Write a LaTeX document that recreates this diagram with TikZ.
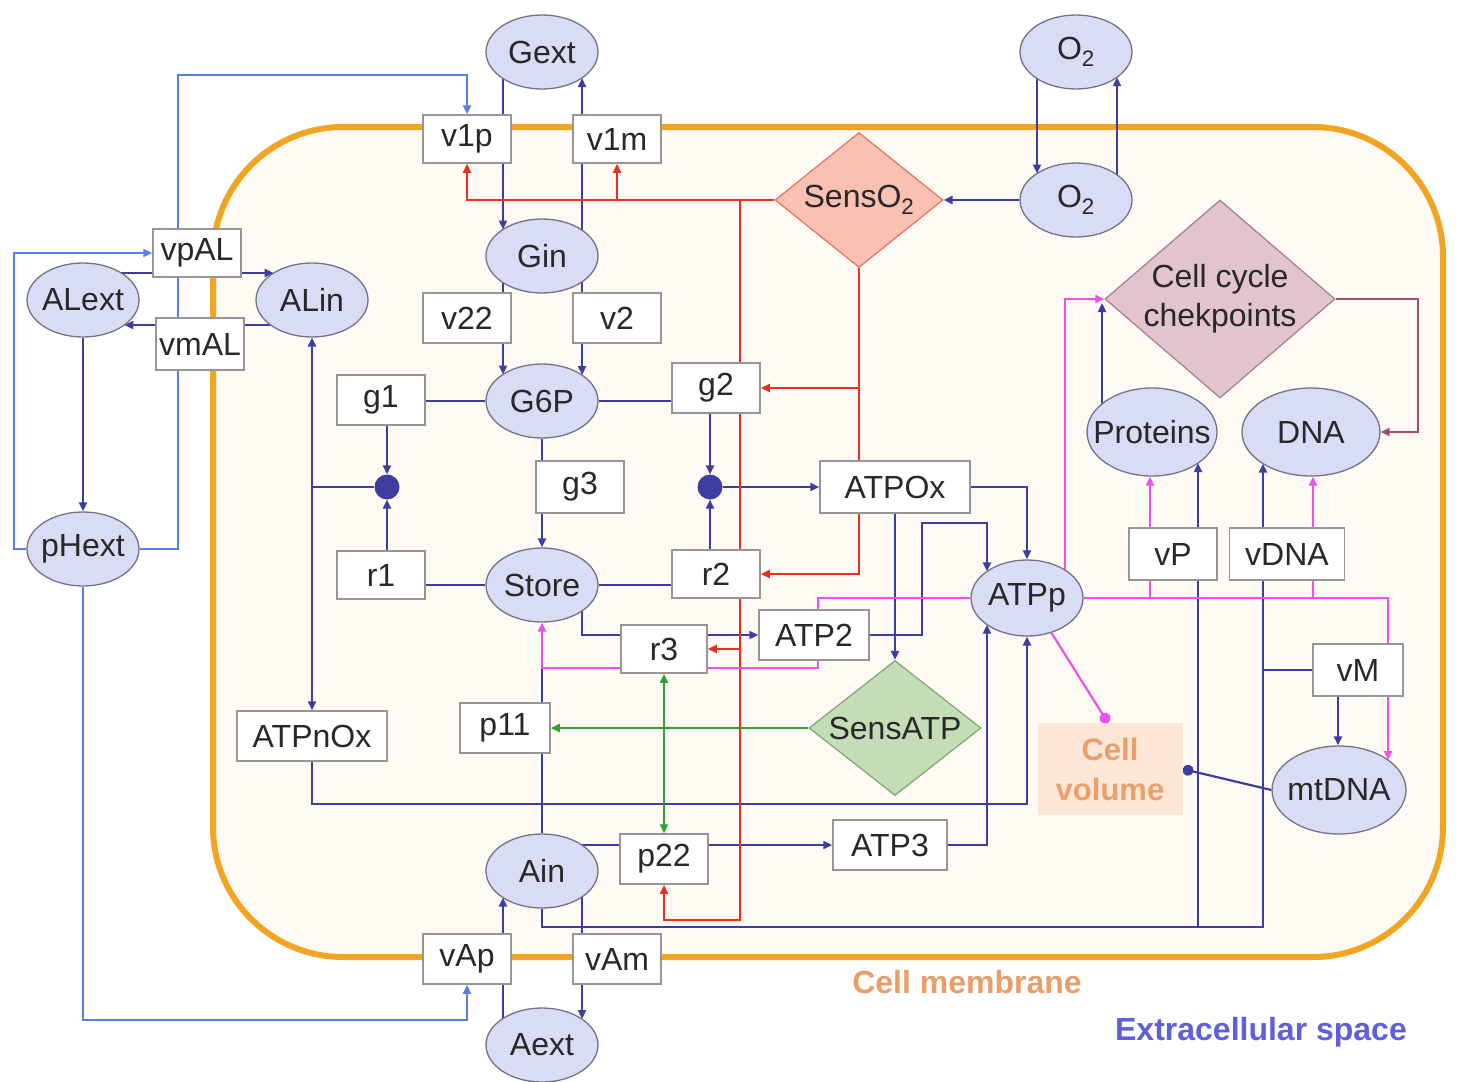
\documentclass[tikz,border=0pt]{standalone}
\usepackage{fontspec}
\setmainfont{Liberation Sans}
\usetikzlibrary{shapes.geometric,arrows.meta,calc}
\definecolor{navy}{RGB}{62,62,160}
\definecolor{lblue}{RGB}{90,128,232}
\definecolor{rdc}{RGB}{232,48,32}
\definecolor{mgc}{RGB}{238,80,238}
\definecolor{grc}{RGB}{50,160,50}
\definecolor{mvc}{RGB}{160,80,110}
\definecolor{ellfill}{RGB}{216,220,245}
\definecolor{ellline}{RGB}{115,115,135}
\definecolor{boxline}{RGB}{150,150,150}
\definecolor{txt}{RGB}{40,40,40}
\definecolor{membc}{RGB}{242,165,35}
\definecolor{cellfill}{RGB}{255,250,244}
\definecolor{so2fill}{RGB}{250,192,178}
\definecolor{so2line}{RGB}{228,120,100}
\definecolor{satpfill}{RGB}{196,221,182}
\definecolor{satpline}{RGB}{130,170,120}
\definecolor{ccfill}{RGB}{226,196,206}
\definecolor{ccline}{RGB}{170,130,145}
\definecolor{cvfill}{RGB}{252,230,214}
\definecolor{cvtext}{RGB}{232,160,112}
\definecolor{memtext}{RGB}{232,158,105}
\definecolor{exttext}{RGB}{95,95,220}
\newcommand\fsz{\fontsize{32}{38}\selectfont}
\newcommand\mkz[1]{\makebox[0pt]{#1}}
\pgfdeclarelayer{bg}
\pgfdeclarelayer{edges}
\pgfsetlayers{bg,edges,main}
\tikzset{
  elli/.style={ellipse, draw=ellline, fill=ellfill, line width=1.3pt, minimum width=112pt, minimum height=74pt, inner sep=0pt, font=\fsz, text=txt},
  rbox/.style={rectangle, draw=boxline, fill=white, line width=1.5pt, minimum width=88pt, minimum height=50pt, inner sep=0pt, font=\fsz, text=txt},
  dmd/.style={diamond, line width=1.3pt, inner sep=0pt, font=\fsz, text=txt},
  jdot/.style={circle, fill=navy, minimum size=25pt, inner sep=0pt},
  arr/.style={-{Triangle[length=9pt,width=8pt]}},
  arrb/.style={{Triangle[length=9pt,width=8pt]}-{Triangle[length=9pt,width=8pt]}},
  dotend/.style={-{Circle[length=11pt]}},
  nv/.style={draw=navy, line width=2.2pt},
  lb/.style={draw=lblue, line width=2.4pt},
  rd/.style={draw=rdc, line width=2.2pt},
  mg/.style={draw=mgc, line width=2.2pt},
  gr/.style={draw=grc, line width=2.2pt},
  mv/.style={draw=mvc, line width=2.2pt},
}
\begin{document}
\begin{tikzpicture}[x=1pt,y=-1pt]
\useasboundingbox (0,0) rectangle (1460,1082);
% ellipses
\node[elli] (Gext) at (542,52) {\mkz{Gext}};
\node[elli] (Gin) at (542,256) {\mkz{Gin}};
\node[elli] (G6P) at (542,401) {\mkz{G6P}};
\node[elli] (Store) at (542,585) {\mkz{Store}};
\node[elli] (Ain) at (542,871) {\mkz{Ain}};
\node[elli] (Aext) at (542,1045) {\mkz{Aext}};
\node[elli] (ALext) at (83,300) {\mkz{ALext}};
\node[elli] (ALin) at (312,300) {\mkz{ALin}};
\node[elli] (pHext) at (83,549) {\mkz{pHext}};
\node[elli] (O2t) at (1076,52) {\mkz{O\textsubscript{2}}};
\node[elli] (O2i) at (1076,200) {\mkz{O\textsubscript{2}}};
\node[elli, minimum height=76pt] (ATPp) at (1027,598) {\mkz{ATPp}};
\node[elli, minimum width=130pt, minimum height=88pt] (Prot) at (1152,432) {\mkz{Proteins}};
\node[elli, minimum width=138pt, minimum height=88pt] (DNA) at (1311,432) {\mkz{DNA}};
\node[elli, minimum width=134pt, minimum height=88pt] (mtDNA) at (1339,790) {\mkz{mtDNA}};
% boxes
\node[rbox, minimum height=48pt] (v1p) at (467,139) {v1p};
\node[rbox, minimum height=48pt] (v1m) at (617,139) {v1m};
\node[rbox] (v22) at (467,318) {v22};
\node[rbox] (v2) at (617,318) {v2};
\node[rbox, minimum height=48pt] (vpAL) at (197,253) {vpAL};
\node[rbox, minimum height=52pt] (vmAL) at (200,344) {vmAL};
\node[rbox] (g1) at (381,400) {g1};
\node[rbox, minimum height=48pt] (r1) at (381,575) {r1};
\node[rbox, minimum height=52pt] (g3) at (580,487) {g3};
\node[rbox] (g2) at (716,388) {g2};
\node[rbox, minimum height=48pt] (r2) at (716,574) {r2};
\node[rbox, minimum width=86pt, minimum height=48pt] (r3) at (664,649) {r3};
\node[rbox, minimum width=150pt, minimum height=52pt] (ATPOx) at (895,487) {ATPOx};
\node[rbox, minimum width=110pt] (ATP2) at (814,635) {ATP2};
\node[rbox, minimum width=150pt] (ATPnOx) at (312,736) {ATPnOx};
\node[rbox, minimum width=90pt] (p11) at (505,728) {p11};
\node[rbox] (p22) at (664,859) {p22};
\node[rbox, minimum width=114pt] (ATP3) at (890,845) {ATP3};
\node[rbox] (vAp) at (467,959) {vAp};
\node[rbox] (vAm) at (617,959) {vAm};
\node[rbox, minimum height=52pt] (vP) at (1173,554) {vP};
\node[rbox, minimum width=115pt, minimum height=52pt] (vDNA) at (1287,554) {vDNA};
\node[rbox, minimum width=90pt, minimum height=52pt] (vM) at (1358,670) {vM};
% diamonds
\node[dmd, draw=so2line, fill=so2fill, minimum width=168pt, minimum height=135pt] (SensO2) at (859,200) {\mkz{SensO\textsubscript{2}}};
\node[dmd, draw=satpline, fill=satpfill, minimum width=172pt, minimum height=135pt] (SensATP) at (895,728) {\mkz{SensATP}};
\node[dmd, draw=ccline, fill=ccfill, minimum width=230pt, minimum height=198pt, font=\fontsize{32}{39}\selectfont] (CC) at (1220,299) {\mkz{\begin{tabular}{@{}c@{}}Cell cycle\\chekpoints\end{tabular}}};
% cell volume
\node[rectangle, fill=cvfill, minimum width=145pt, minimum height=92pt, inner sep=0pt, align=center, font=\fontsize{31}{40}\selectfont\bfseries, text=cvtext] (CV) at (1110,769) {Cell\\volume};
% junction dots
\node[jdot] (d1) at (387,487) {};
\node[jdot] (d2) at (710,487) {};
% labels
\node[font=\fontsize{32}{38}\selectfont\bfseries, text=memtext] (lblmem) at (967,982) {Cell membrane};
\node[font=\fontsize{32}{38}\selectfont\bfseries, text=exttext] (lblext) at (1261,1032) {Extracellular space};
\coordinate (mj) at (542,668);

\begin{pgfonlayer}{bg}
\fill[white] (0,0) rectangle (1460,1082);
\draw[draw=membc, line width=6pt, fill=cellfill, rounded corners=130pt] (213,127) rectangle (1443,957);
\end{pgfonlayer}

\begin{pgfonlayer}{edges}
% glucose
\draw[nv,arr] ($(Gext)+(-39,26.5)$) -- ($(Gin)+(-39,-26.5)$);
\draw[nv,arr] ($(Gin)+(40,-26)$) -- ($(Gext)+(40,26)$);
\draw[nv,arr] ($(Gin)+(-39,26.5)$) -- ($(G6P)+(-39,-26.5)$);
\draw[nv,arr] ($(Gin)+(40,26)$) -- ($(G6P)+(40,-26)$);
\draw[nv] (G6P.west) -- (G6P.west -| g1.east);
\draw[nv] (G6P.east) -- (G6P.east -| g2.west);
\draw[nv] (Store.west) -- (Store.west -| r1.east);
\draw[nv] (Store.east) -- (Store.east -| r2.west);
\draw[nv,arr] (g1.south -| d1) -- (d1.north);
\draw[nv,arr] (r1.north -| d1) -- (d1.south);
\draw[nv] (ALin.south |- d1) -- (d1.west);
\draw[nv,arr] (g2.south -| d2) -- (d2.north);
\draw[nv,arr] (r2.north -| d2) -- (d2.south);
\draw[nv,arr] (d2.east) -- (ATPOx.west);
\draw[nv,arr] (G6P.south) -- (Store.north);
\draw[nv,arr] ($(Store)+(40,26)$) |- (ATP2.west);
\draw[nv,arr] (ATP2.east) -| (922,523) -| ($(ATPp)+(-40,-26.6)$);
\draw[nv,arr] (ATPOx.east) -| (ATPp.north);
\draw[nv,arr] (ATPOx.south) -- (SensATP.north);
\draw[nv,arrb] (ALin.south) -- (ATPnOx.north);
\draw[nv,arr] (ATPnOx.south) -- ++(0,42) -| (ATPp.south);
\draw[nv,arr] (ATP3.east) -| ($(ATPp)+(-40,26.6)$);
\draw[nv,arr] ($(Ain)+(40,-26)$) -- (ATP3.west);
\draw[nv] (Ain.north) -- (mj);
\draw[nv,arr] ($(Aext)+(-39,-26.5)$) -- ($(Ain)+(-39,26.5)$);
\draw[nv,arr] ($(Ain)+(40,26)$) -- ($(Aext)+(40,-26)$);
\draw[nv,arr] (Ain.south) -- (542,927) -| ($(DNA)+(-48,31.6)$);
\draw[nv,arr] (1198,927) -- ($(Prot)+(46,31.1)$);
\draw[nv] (1263,670) -- (vM.west);
\draw[nv,arr] ($(vM.south)+(-20,0)$) -- ($(mtDNA.north)+(-1,0)$);
\draw[nv,dotend] (mtDNA.west) -- (CV.east);
\draw[nv,arr] ($(Prot)+(-50,-28.1)$) -- (1102,303);
% O2
\draw[nv,arr] ($(O2t)+(-39,26.5)$) -- ($(O2i)+(-39,-26.5)$);
\draw[nv,arr] ($(O2i)+(41,-25.2)$) -- ($(O2t)+(41,25.2)$);
\draw[nv,arr] (O2i.west) -- (SensO2.east);
% AL
\draw[nv,arr] ($(ALext)+(38.3,-27)$) -- ($(ALin)+(-38.3,-27)$);
\draw[nv,arr] ($(ALin)+(-41.3,25)$) -- ($(ALext)+(41.3,25)$);
\draw[nv,arr] (ALext.south) -- (pHext.north);
% pH (light blue)
\draw[lb,arr] (pHext.west) -- (14,549) |- (vpAL.west);
\draw[lb,arr] (pHext.east) -| (178,75) -| (v1p.north);
\draw[lb,arr] (pHext.south) -- (83,1020) -| (vAp.south);
% red
\draw[rd,arr] (SensO2.west) -| (v1p.south);
\draw[rd,arr] (617,200) -- (v1m.south);
\draw[rd,arr] (740,200) -- (740,920) -| (p22.south);
\draw[rd,arr] (740,649) -- (r3.east);
\draw[rd,arr] (SensO2.south) |- (r2.east);
\draw[rd,arr] (859,388) -- (g2.east);
% green
\draw[gr,arr] (SensATP.west) -- (p11.east);
\draw[gr,arrb] (r3.south) -- (p22.north);
% magenta
\draw[mg,arr] (ATPp.west) -- (818,598) -- (818,668) -- (mj) -- (Store.south);
\draw[mg,arr] (ATPp.east) -| ($(mtDNA)+(49,-30)$);
\draw[mg,arr] (1150,598) -- ($(Prot.south)+(-2,0)$);
\draw[mg,arr] (1313,598) -- ($(DNA.south)+(2,0)$);
\draw[mg,arr] ($(ATPp)+(38,-27.9)$) |- (CC.west);
\draw[mg,dotend] (ATPp.-55) -- ($(CV.north)+(-2,0)$);
% mauve
\draw[mv,arr] (CC.east) -| (1418,432) -- (DNA.east);
\end{pgfonlayer}
\end{tikzpicture}
\end{document}
